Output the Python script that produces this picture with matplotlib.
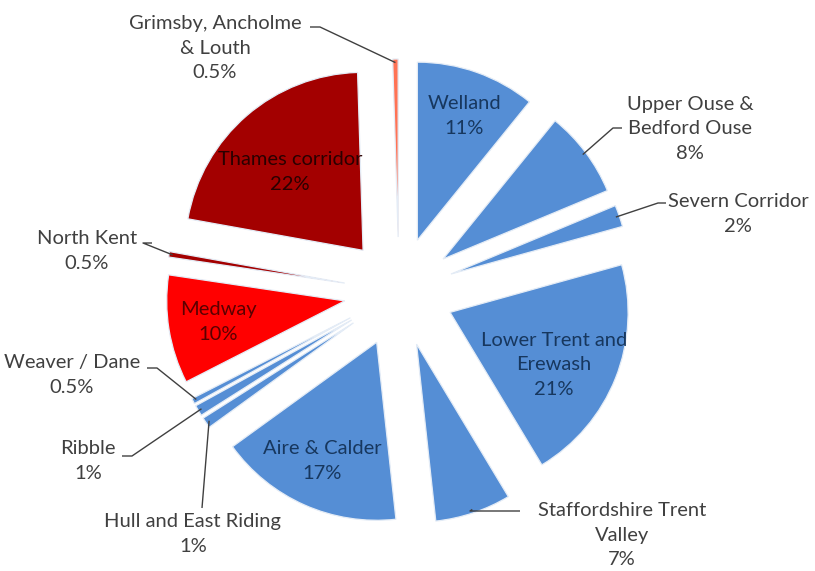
#!/usr/bin/env python3
"""
Exploded pie of catchment shares (Excel-style), recreated with matplotlib.
"""

import matplotlib.pyplot as plt
import numpy as np

W, H = 815, 571

names = [
    "Welland", "Upper Ouse &\nBedford Ouse", "Severn Corridor",
    "Lower Trent and\nErewash", "Staffordshire Trent\nValley", "Aire & Calder",
    "Hull and East Riding", "Ribble", "Weaver / Dane", "Medway",
    "North Kent", "Thames corridor", "Grimsby, Ancholme\n& Louth",
]
shares = [11, 8, 2, 21, 7, 17, 1, 1, 0.5, 10, 0.5, 22, 0.5]
pct_labels = ["11%", "8%", "2%", "21%", "7%", "17%", "1%", "1%", "0.5%",
              "10%", "0.5%", "22%", "0.5%"]

BLUE = "#558ED5"
DARKRED = "#A30000"
RED = "#FF0000"
SALMON = "#FF7355"
colors = [BLUE] * 9 + [RED, DARKRED, DARKRED, SALMON]

# layout, in image pixels (y measured from the top)
CENTER = (399, 292)
RADIUS = 178
EXPLODE = 55  # pie() offsets wedges in data units, here pixels

inside = {
    "Welland": (464, 116, "#17375E"),
    "Lower Trent and\nErewash": (554, 365, "#17375E"),
    "Aire & Calder": (322, 461, "#17375E"),
    "Medway": (218, 322, "#5A0000"),
    "Thames corridor": (290, 172, "#2A0000"),
}
# text x, text y, ha, elbow x, elbow y, stub end x
outside = {
    "Grimsby, Ancholme\n& Louth": (215, 48, "center", 320, 27, 310),
    "Upper Ouse &\nBedford Ouse": (690, 129, "center", 613, 128, 622),
    "Severn Corridor": (738, 214, "center", 658, 203, 666),
    "Staffordshire Trent\nValley": (622, 535, "center", 470, 511, 520),
    "Hull and East Riding": (193, 534, "center", 202, 508, 202),
    "Ribble": (88, 461, "center", 132, 456, 122),
    "Weaver / Dane": (72, 375, "center", 157, 368, 147),
    "North Kent": (87, 251, "center", 143, 243, 152),
}

plt.rcParams["font.family"] = ["Lato", "DejaVu Sans"]

fig = plt.figure(figsize=(W / 100, H / 100), dpi=100)
ax = fig.add_axes([0, 0, 1, 1])

wedges, _ = ax.pie(
    shares,
    colors=colors,
    startangle=90,
    counterclock=False,
    radius=RADIUS,
    center=(CENTER[0], H - CENTER[1]),
    explode=[EXPLODE] * len(shares),
    wedgeprops=dict(edgecolor="#E4ECF6", linewidth=0.9),
    frame=True,
)
ax.set_xlim(0, W)
ax.set_ylim(0, H)
ax.set_aspect("equal")
ax.axis("off")

for w, name, pct in zip(wedges, names, pct_labels):
    label = f"{name}\n{pct}"
    if name in inside:
        x, y, tc = inside[name]
        ax.text(x, H - y, label, ha="center", va="center", fontsize=14.5,
                color=tc, linespacing=1.55)
        continue
    tx, ty, ha, ex, ey, sx = outside[name]
    ax.text(tx, H - ty, label, ha=ha, va="center", fontsize=14.5,
            color="#404040", linespacing=1.55)
    mid = np.deg2rad((w.theta1 + w.theta2) / 2)
    cx, cy = w.center
    px = cx + w.r * 0.98 * np.cos(mid)
    py = cy + w.r * 0.98 * np.sin(mid)
    ax.plot([px, ex, sx], [py, H - ey, H - ey], color="#404040", lw=1.0,
            solid_capstyle="butt")

fig.savefig("out.png", dpi=100)
